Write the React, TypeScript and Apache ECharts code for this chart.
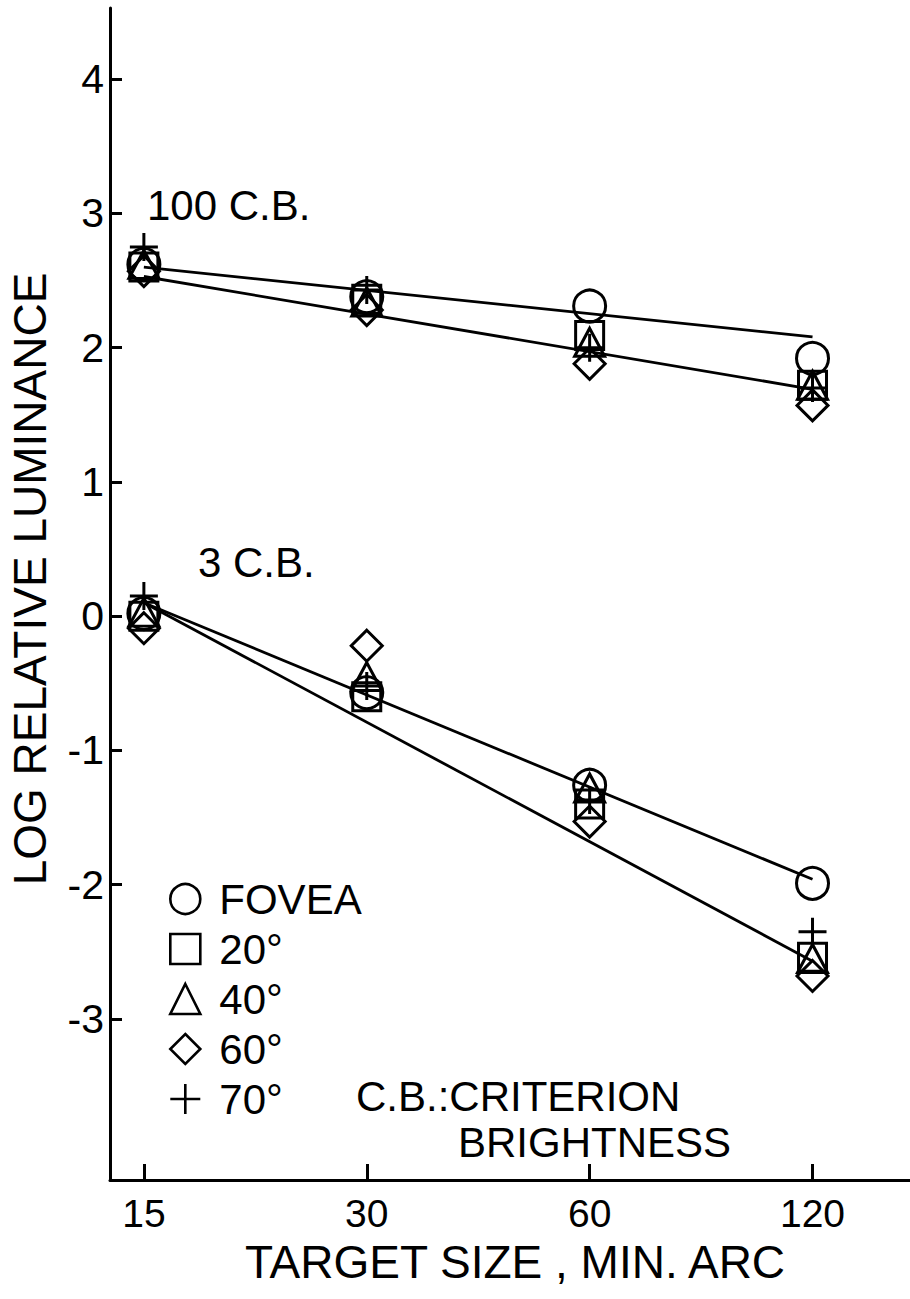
import React, { useEffect, useRef } from "react";
import * as echarts from "echarts";

// Target sizes (minutes of arc) and the tick values shown on the luminance axis
const sizes = [15, 30, 60, 120];
const yTickValues = [-3, -2, -1, 0, 1, 2, 3, 4];

// Retinal locations (legend order)
const locations = ["FOVEA", "20°", "40°", "60°", "70°"];

// Log relative luminance at criterion brightness 100 C.B.
const fovea100 = [2.62, 2.38, 2.31, 1.92];
const deg20_100 = [2.6, 2.36, 2.09, 1.72];
const deg40_100 = [2.62, 2.34, 2.04, 1.72];
const deg60_100 = [2.57, 2.28, 1.88, 1.57];
const deg70_100 = [2.75, 2.43, 2.0, 1.7];

// Log relative luminance at criterion brightness 3 C.B.
const fovea3 = [0.02, -0.57, -1.26, -1.99];
const deg20_3 = [0.0, -0.6, -1.4, -2.54];
const deg40_3 = [0.03, -0.45, -1.28, -2.55];
const deg60_3 = [-0.09, -0.22, -1.53, -2.68];
const deg70_3 = [0.15, -0.52, -1.37, -2.35];

// Fitted straight lines (value at 15 and at 120 min arc)
const fitSizes = [15, 120];
const fit100Upper = [2.6, 2.08];
const fit100Lower = [2.53, 1.69];
const fit3Upper = [0.1, -1.96];
const fit3Lower = [0.1, -2.57];

const highSets = [fovea100, deg20_100, deg40_100, deg60_100, deg70_100];
const lowSets = [fovea3, deg20_3, deg40_3, deg60_3, deg70_3];

const FONT = '"Liberation Sans", Arial, sans-serif';
const INK = "#000";

const PLUS = "path://M12,0 L12,24 M0,12 L24,12";
const symbols = ["circle", "rect", "triangle", "diamond", PLUS];
const symbolSizes = [32, 28, [30, 28], [31, 31], 28];

const lg = (v: number) => Math.log2(v);

export default function App() {
  const ref = useRef<HTMLDivElement>(null);

  useEffect(() => {
    document.body.style.margin = "0";
    const chart = echarts.init(ref.current!, null, { renderer: "svg" });

    const fitLine = (vals: number[]) => ({
      type: "line",
      silent: true,
      symbol: "none",
      z: 1,
      lineStyle: { color: INK, width: 2.8, opacity: 1 },
      data: fitSizes.map((s, k) => [lg(s), vals[k]]),
    });

    const scatterSeries = locations.map((name, i) => ({
      type: "scatter",
      name,
      symbol: symbols[i],
      symbolSize: symbolSizes[i],
      z: 3,
      itemStyle: {
        color: "rgba(255,255,255,0)",
        borderColor: INK,
        borderWidth: 3,
        opacity: 1,
      },
      data: [
        ...sizes.map((s, k) => [lg(s), highSets[i][k]]),
        ...sizes.map((s, k) => [lg(s), lowSets[i][k]]),
      ],
    }));

    const textStyle = (size: number) => ({
      fill: INK,
      fontFamily: FONT,
      fontSize: size,
    });

    chart.setOption({
      animation: false,
      backgroundColor: "#fff",
      grid: { left: 110, right: 0, top: 8, bottom: 119, containLabel: false },
      xAxis: {
        type: "value",
        min: lg(13.5),
        max: lg(162.5),
        splitLine: { show: false },
        axisLine: { show: true, onZero: false, lineStyle: { color: INK, width: 3 } },
        axisTick: {
          show: true,
          inside: true,
          length: 16,
          customValues: sizes.map(lg),
          lineStyle: { color: INK, width: 3 },
        },
        axisLabel: {
          customValues: sizes.map(lg),
          formatter: (v: number) => String(Math.round(Math.pow(2, v))),
          color: INK,
          fontFamily: FONT,
          fontSize: 39,
          margin: 14,
        },
      },
      yAxis: {
        type: "value",
        min: -4.2,
        max: 4.53,
        splitLine: { show: false },
        axisLine: { show: true, onZero: false, lineStyle: { color: INK, width: 3 } },
        axisTick: {
          show: true,
          inside: true,
          length: 12,
          customValues: yTickValues,
          lineStyle: { color: INK, width: 3 },
        },
        axisLabel: {
          customValues: yTickValues,
          color: INK,
          fontFamily: FONT,
          fontSize: 41,
          margin: 6,
        },
      },
      legend: {
        data: locations,
        orient: "vertical",
        left: 169,
        top: 878,
        padding: 0,
        itemWidth: 30,
        itemHeight: 30,
        itemGap: 8,
        selectedMode: false,
        itemStyle: { borderWidth: 2.6, borderColor: INK, color: "rgba(255,255,255,0)", opacity: 1 },
        textStyle: {
          color: INK,
          fontFamily: FONT,
          fontSize: 42,
          padding: [0, 0, 0, 14],
        },
      },
      graphic: [
        {
          type: "text",
          x: 30,
          y: 579,
          rotation: Math.PI / 2,
          style: { ...textStyle(46), text: "LOG RELATIVE LUMINANCE", align: "center", verticalAlign: "middle" },
        },
        {
          type: "text",
          x: 515,
          y: 1262,
          style: { ...textStyle(46), text: "TARGET SIZE , MIN. ARC", align: "center", verticalAlign: "middle" },
        },
        {
          type: "text",
          x: 147,
          y: 205,
          style: { ...textStyle(42), text: "100 C.B.", align: "left", verticalAlign: "middle" },
        },
        {
          type: "text",
          x: 198,
          y: 562,
          style: { ...textStyle(42), text: "3 C.B.", align: "left", verticalAlign: "middle" },
        },
        {
          type: "text",
          x: 356,
          y: 1096,
          style: { ...textStyle(42), text: "C.B.:CRITERION", align: "left", verticalAlign: "middle" },
        },
        {
          type: "text",
          x: 458,
          y: 1142,
          style: { ...textStyle(42), text: "BRIGHTNESS", align: "left", verticalAlign: "middle" },
        },
      ],
      series: [
        fitLine(fit100Upper),
        fitLine(fit100Lower),
        fitLine(fit3Upper),
        fitLine(fit3Lower),
        ...scatterSeries,
      ],
    });

    return () => chart.dispose();
  }, []);

  return <div ref={ref} style={{ width: 910, height: 1299 }} />;
}
